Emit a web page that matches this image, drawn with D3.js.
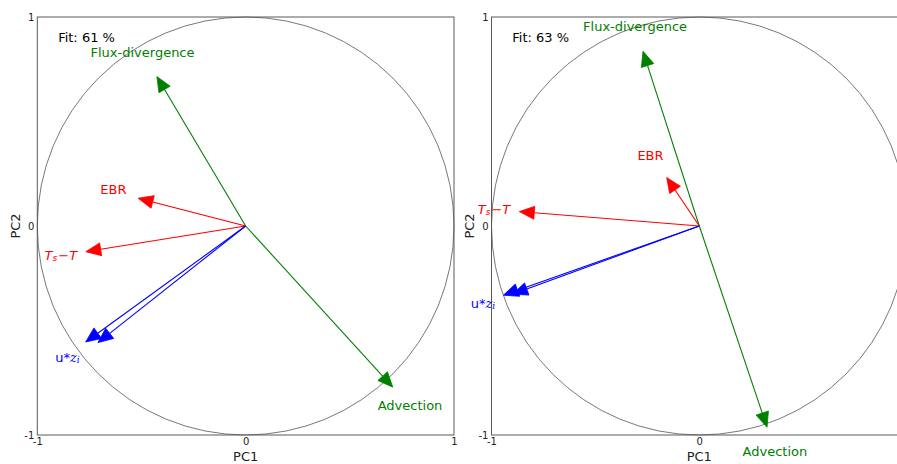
<!DOCTYPE html>
<html>
<head>
<meta charset="utf-8">
<script src="https://cdn.jsdelivr.net/npm/d3@7"></script>
<style>
  html, body { margin: 0; padding: 0; background: #fff; }
  svg { display: block; }
  text { font-family: "DejaVu Sans", sans-serif; }
</style>
</head>
<body>
<svg id="chart" width="897" height="464"></svg>
<script>
// ---------------- data ----------------
const ticks = [-1, 0, 1];
const fitTexts = ["Fit: 61 %", "Fit: 63 %"];
const arrowGroups = ["flux", "ebr", "ts", "ustar", "ustar", "adv"];
// panel A (left)
const pc1A = [-0.426, -0.516, -0.767, -0.768, -0.709, 0.706];
const pc2A = [0.715, 0.133, -0.123, -0.555, -0.558, -0.771];
// panel B (right)
const pc1B = [-0.271, -0.157, -0.866, -0.943, -0.898, 0.326];
const pc2B = [0.836, 0.232, 0.069, -0.331, -0.326, -0.963];
// labels
const labelGroups = ["flux", "ebr", "ts", "ustar", "adv"];
const labelXA = [-0.495, -0.635, -0.887, -0.855, 0.789];
const labelYA = [0.830, 0.173, -0.139, -0.628, -0.858];
const labelXB = [-0.309, -0.235, -0.988, -1.041, 0.364];
const labelYB = [0.954, 0.336, 0.082, -0.369, -1.079];

const colors = { flux: "#008000", ebr: "#ff0000", ts: "#ff0000", ustar: "#0000ff", adv: "#008000" };

// ---------------- drawing ----------------
const W = 897;
const svg = d3.select("#chart");

const panels = [
  { x0: 37.3, x1: 454.0, pc1: pc1A, pc2: pc2A, lx: labelXA, ly: labelYA, fit: fitTexts[0] },
  { x0: 491.5, x1: 907.1, pc1: pc1B, pc2: pc2B, lx: labelXB, ly: labelYB, fit: fitTexts[1] }
];

panels.forEach(p => {
  const x = d3.scaleLinear().domain([-1, 1]).range([p.x0, p.x1]);
  const y = d3.scaleLinear().domain([-1, 1]).range([435, 17]);
  const g = svg.append("g");

  // frame
  g.append("rect")
    .attr("x", x(-1)).attr("y", y(1))
    .attr("width", x(1) - x(-1)).attr("height", y(-1) - y(1))
    .attr("fill", "none").attr("stroke", "#5a5a5a").attr("stroke-width", 1);

  // unit circle
  g.append("ellipse")
    .attr("cx", x(0)).attr("cy", y(0))
    .attr("rx", x(1) - x(0)).attr("ry", y(0) - y(1))
    .attr("fill", "none").attr("stroke", "#555").attr("stroke-width", 0.8);

  // axes (ticks beyond the visible canvas are not shown, as in the reference)
  const xTicks = ticks.filter(t => x(t) <= W - 4);
  const ax = g.append("g").attr("transform", `translate(0,${y(-1)})`)
    .call(d3.axisBottom(x).tickValues(xTicks).tickSize(0).tickPadding(3).tickFormat(d => String(d)));
  const ay = g.append("g").attr("transform", `translate(${x(-1)},0)`)
    .call(d3.axisLeft(y).tickValues(ticks).tickSize(0).tickPadding(3).tickFormat(d => String(d)));
  [ax, ay].forEach(a => {
    a.select(".domain").remove();
    a.selectAll("text").attr("font-size", 10).attr("fill", "#222")
      .attr("font-family", "DejaVu Sans, sans-serif");
  });

  // axis titles
  g.append("text").attr("x", x(0)).attr("y", 461).attr("text-anchor", "middle")
    .attr("font-size", 13).attr("fill", "#222").text("PC1");
  g.append("text").attr("transform", `translate(${x(-1) - 22},${y(0)}) rotate(-90)`)
    .attr("text-anchor", "middle").attr("dominant-baseline", "central")
    .attr("font-size", 13).attr("fill", "#222").text("PC2");

  // fit text
  g.append("text").attr("x", x(-0.9)).attr("y", y(0.9))
    .attr("dominant-baseline", "central").attr("font-size", 13).attr("fill", "#000")
    .text(p.fit);

  // arrows
  const ox = x(0), oy = y(0);
  const headLen = 15, headHalf = 6.5;
  p.pc1.forEach((v, i) => {
    const tx = x(v), ty = y(p.pc2[i]);
    const dx = tx - ox, dy = ty - oy;
    const L = Math.hypot(dx, dy);
    const ux = dx / L, uy = dy / L;
    const bx = tx - ux * headLen, by = ty - uy * headLen;
    const px = -uy, py = ux;
    const c = colors[arrowGroups[i]];
    g.append("line").attr("x1", ox).attr("y1", oy).attr("x2", bx).attr("y2", by)
      .attr("stroke", c).attr("stroke-width", 1.1);
    g.append("path")
      .attr("d", `M${tx},${ty}L${bx + px * headHalf},${by + py * headHalf}L${bx - px * headHalf},${by - py * headHalf}Z`)
      .attr("fill", c).attr("stroke", c).attr("stroke-width", 0.8);
  });

  // labels
  labelGroups.forEach((grp, i) => {
    const t = g.append("text").attr("x", x(p.lx[i])).attr("y", y(p.ly[i]))
      .attr("text-anchor", "middle").attr("dominant-baseline", "central")
      .attr("fill", colors[grp]).attr("font-size", 13);
    if (grp === "flux") t.text("Flux-divergence");
    else if (grp === "ebr") t.text("EBR");
    else if (grp === "adv") t.text("Advection");
    else if (grp === "ts") {
      t.attr("font-family", "DejaVu Serif, serif").attr("font-size", 13);
      t.append("tspan").attr("font-style", "italic").text("T");
      t.append("tspan").attr("font-style", "italic").attr("font-size", 9).attr("dy", 3).text("s");
      t.append("tspan").attr("dy", -3).attr("dx", 1).text("\u2212");
      t.append("tspan").attr("font-style", "italic").text("T");
    } else if (grp === "ustar") {
      t.append("tspan").text("u*");
      t.append("tspan").attr("font-family", "DejaVu Serif, serif").attr("font-style", "italic")
        .attr("font-size", 13).text("z");
      t.append("tspan").attr("font-family", "DejaVu Serif, serif").attr("font-style", "italic")
        .attr("font-size", 9).attr("dy", 3).text("i");
    }
  });
});
</script>
</body>
</html>
